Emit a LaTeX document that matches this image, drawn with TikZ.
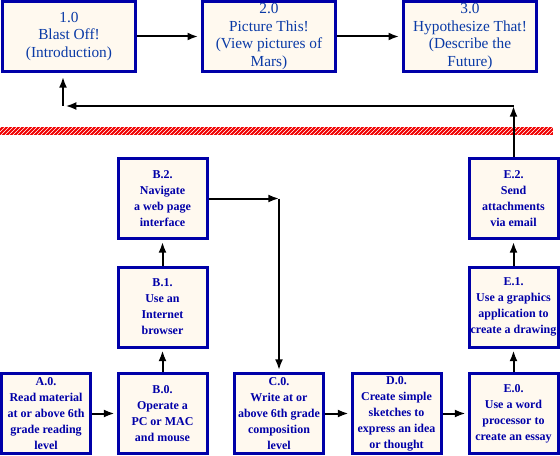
\documentclass[tikz,border=0pt]{standalone}
\usepackage{fontspec}
\setmainfont{Liberation Serif}
\usepackage{xcolor}
\usepackage{tikz}
\usetikzlibrary{arrows.meta,patterns}
\definecolor{frame}{HTML}{0000A8}
\definecolor{cream}{HTML}{FFF9EF}
\definecolor{navy}{HTML}{0000A8}
\definecolor{title}{HTML}{0A3AA6}
\definecolor{hatch}{HTML}{F00000}

\begin{document}
\begin{tikzpicture}[x=0.75pt,y=-0.75pt,
  phase/.style={draw=frame,fill=cream,line width=2.25pt,minimum width=100pt,minimum height=52.5pt,
    inner sep=0pt,align=center,text=title,font=\fontsize{11.5}{13.2}\selectfont},
  task/.style={draw=frame,fill=cream,line width=2.25pt,minimum width=66.75pt,minimum height=60pt,
    inner sep=1pt,align=center,text=navy,font=\bfseries\fontsize{9}{12}\selectfont},
  flow/.style={-{Latex[length=8pt,width=6pt]},line width=1.5pt}]
  \useasboundingbox (0,0) rectangle (560,456);
  % phases
  \node[phase] (n1) at (69,36.5) {1.0\\Blast Off!\\(Introduction)};
  \node[phase] (n2) at (269,36.5) {2.0\\Picture This!\\(View pictures of\\Mars)};
  \node[phase] (n3) at (470,36.5) {3.0\\Hypothesize That!\\(Describe the\\Future)};
  \draw[flow,shorten >=2pt] (n1) -- (n2);
  \draw[flow,shorten >=2pt] (n2) -- (n3);
  % divider
  \fill[hatch] (0,127) rectangle (553,135);
  \fill[pattern=north east lines,pattern color=white] (0,127) rectangle (553,135);
  % skills
  \node[task] (a0) at (46,413.5) {A.0.\\Read material\\at or above 6th\\grade reading\\level};
  \node[task] (b0) at (162.5,413.5) {B.0.\\Operate a\\PC or MAC\\and mouse};
  \node[task] (b1) at (162.5,307) {B.1.\\Use an\\Internet\\browser};
  \node[task] (b2) at (162.5,198.5) {B.2.\\Navigate\\a web page\\interface};
  \node[task] (c0) at (279,413.5) {C.0.\\Write at or\\above 6th grade\\composition\\level};
  \node[task] (d0) at (396.5,413.5) {D.0.\\Create simple\\sketches to\\express an idea\\or thought};
  \node[task] (e0) at (513.5,413.5) {E.0.\\Use a word\\processor to\\create an essay};
  \node[task] (e1) at (513.5,307) {E.1.\\Use a graphics\\application to\\create a drawing};
  \node[task] (e2) at (513.5,198.5) {E.2.\\Send\\attachments\\via email};
  \coordinate (bend) at (279,198.5);
  \coordinate (fbR) at (513.5,106);
  \coordinate (fbL) at (63,106);
  \draw[flow,shorten >=1.5pt] (a0) -- (b0);
  \draw[flow,shorten >=1.5pt] (b0) -- (b1);
  \draw[flow,shorten >=1.5pt] (b1) -- (b2);
  \draw[flow] (b2) -- (bend);
  \draw[flow,shorten >=1.5pt] (bend) -- (c0);
  \draw[flow,shorten >=1.5pt] (c0) -- (d0);
  \draw[flow,shorten >=1.5pt] (d0) -- (e0);
  \draw[flow,shorten >=1.5pt] (e0) -- (e1);
  \draw[flow,shorten >=1.5pt] (e1) -- (e2);
  % back to the start
  \draw[flow] (e2) -- (fbR);
  \draw[flow,shorten >=2pt] (fbR) -- (fbL);
  \draw[flow,shorten >=3pt] (fbL) -- (fbL |- n1.south);
\end{tikzpicture}
\end{document}
